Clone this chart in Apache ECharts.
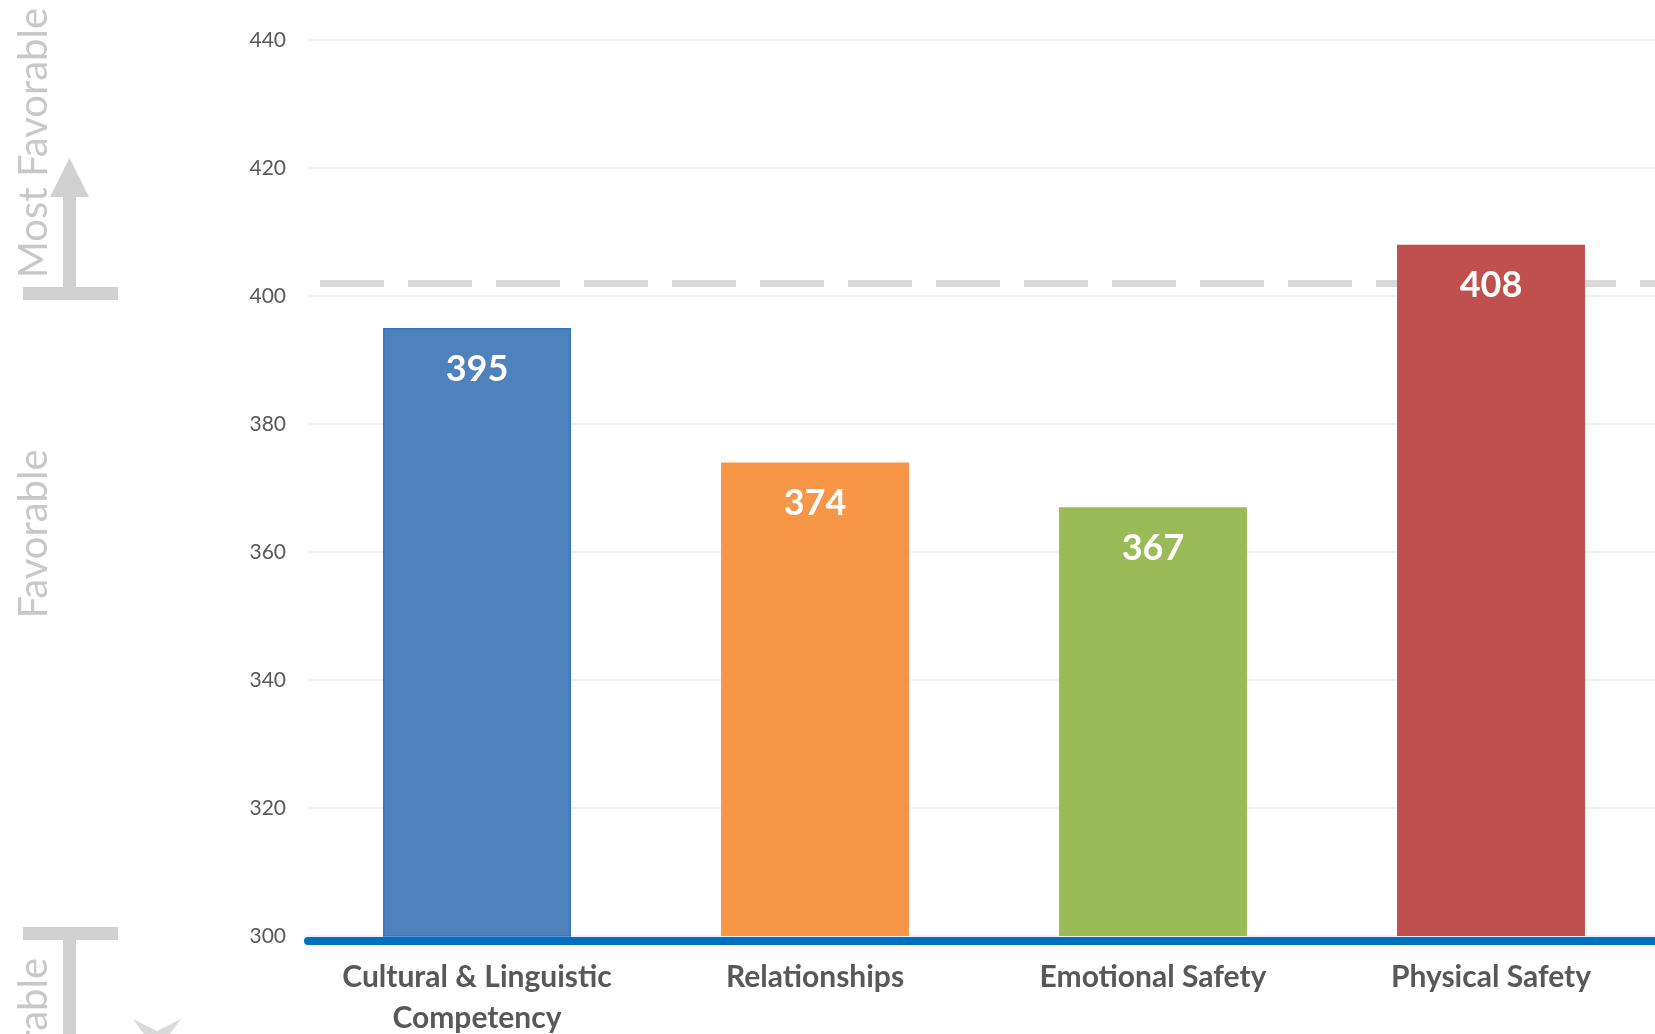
<!DOCTYPE html>
<html>
<head>
<meta charset="utf-8">
<title>Climate Index by Domain</title>
<script src="https://cdn.jsdelivr.net/npm/echarts@6/dist/echarts.min.js"></script>
<style>
  html, body {
    margin: 0;
    padding: 0;
    background: #ffffff;
  }
  #chart {
    width: 1655px;
    height: 1034px;
  }
</style>
</head>
<body>
<div id="chart"></div>
<script>
// categories and values
const categories = ['Cultural & Linguistic\nCompetency', 'Relationships', 'Emotional Safety', 'Physical Safety']
const scores = [395, 374, 367, 408]
const barColors = ['#4F81BD', '#F79646', '#9BBB59', '#C0504D']
const thresholdValue = 402 // dashed "most favorable" cut line
const yTicks = [300, 320, 340, 360, 380, 400, 420, 440]

const sideColor = '#d0d0d0'
const chart = echarts.init(document.getElementById('chart'))

const barData = scores.map((v, i) => {
  const item = { value: v, itemStyle: { color: barColors[i] } }
  if (i === 0) {
    // first bar has a thin darker outline in the original
    item.itemStyle.borderColor = '#2F78C8'
    item.itemStyle.borderWidth = 1.5
  }
  return item
})

const option = {
  backgroundColor: '#ffffff',
  animation: false,
  grid: {
    left: 308,
    top: 40,
    bottom: 98,
    right: -5,
    containLabel: false,
    outerBoundsMode: 'none'
  },
  xAxis: {
    type: 'category',
    data: categories,
    offset: 5,
    axisLine: {
      show: true,
      lineStyle: { color: '#0070C0', width: 8 }
    },
    axisTick: { show: false },
    axisLabel: {
      interval: 0,
      margin: 16,
      fontFamily: 'Lato',
      fontWeight: 'bold',
      fontSize: 30,
      lineHeight: 41,
      color: '#585858'
    },
    splitLine: { show: false }
  },
  yAxis: {
    type: 'value',
    min: yTicks[0],
    max: yTicks[yTicks.length - 1],
    interval: 20,
    axisLine: { show: false },
    axisTick: { show: false },
    axisLabel: {
      margin: 22,
      fontFamily: 'Lato',
      fontSize: 21,
      color: '#595959'
    },
    splitLine: {
      show: true,
      lineStyle: { color: '#ececec', width: 1.5 }
    }
  },
  series: [
    {
      type: 'bar',
      data: barData,
      barWidth: '55.6%',
      z: 2,
      label: {
        show: true,
        position: 'insideTop',
        distance: 23,
        fontFamily: 'Lato',
        fontWeight: 'bold',
        fontSize: 36,
        color: '#ffffff'
      },
      markLine: {
        silent: true,
        z: 1,
        symbol: 'none',
        label: { show: false },
        lineStyle: {
          color: '#d9d9d9',
          width: 7,
          type: [64, 24],
          dashOffset: 76
        },
        data: [{ yAxis: thresholdValue }]
      }
    }
  ],
  graphic: [
    // top: "Most Favorable" with up arrow
    {
      type: 'text',
      rotation: Math.PI / 2,
      position: [34, 8],
      style: {
        text: 'Most Favorable',
        x: 0,
        y: 0,
        font: '40px Lato',
        fill: '#c8c8c8',
        align: 'right',
        verticalAlign: 'middle'
      }
    },
    {
      type: 'polygon',
      shape: { points: [[50, 197], [89, 197], [69.5, 158]] },
      style: { fill: sideColor }
    },
    {
      type: 'rect',
      shape: { x: 63, y: 196, width: 13, height: 92 },
      style: { fill: sideColor }
    },
    {
      type: 'rect',
      shape: { x: 23, y: 287, width: 95, height: 13 },
      style: { fill: sideColor }
    },
    // middle: "Favorable"
    {
      type: 'text',
      rotation: Math.PI / 2,
      position: [34, 534],
      style: {
        text: 'Favorable',
        x: 0,
        y: 0,
        font: '40px Lato',
        fill: '#c8c8c8',
        align: 'center',
        verticalAlign: 'middle'
      }
    },
    // bottom: cut-off "Least Favorable" with down bar
    {
      type: 'text',
      rotation: Math.PI / 2,
      position: [34, 958],
      style: {
        text: 'Least Favorable',
        x: 0,
        y: 0,
        font: '40px Lato',
        fill: '#c8c8c8',
        align: 'right',
        verticalAlign: 'middle'
      }
    },
    {
      type: 'rect',
      shape: { x: 23, y: 927, width: 95, height: 13 },
      style: { fill: sideColor }
    },
    {
      type: 'rect',
      shape: { x: 63, y: 939, width: 13, height: 100 },
      style: { fill: sideColor }
    },
    {
      type: 'polygon',
      shape: { points: [[133, 1019], [157, 1031], [181, 1019], [157, 1052]] },
      style: { fill: '#dadada' }
    }
  ]
}

chart.setOption(option)
window.addEventListener('resize', () => {
  chart && chart.resize()
})
</script>
</body>
</html>
